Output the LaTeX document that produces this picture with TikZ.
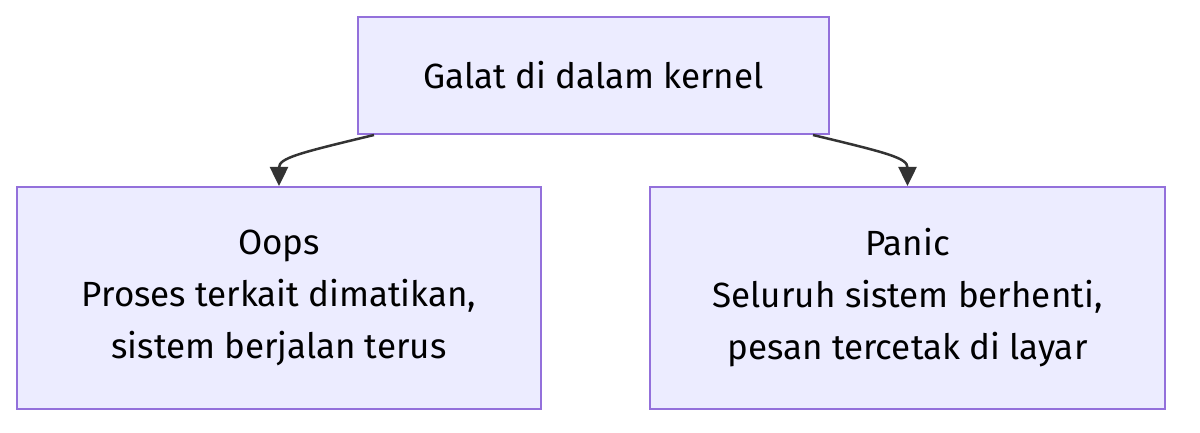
\documentclass[tikz,border=0pt]{standalone}
\usepackage{fontspec}
\setmainfont{Fira Sans}
\usetikzlibrary{arrows.meta}
\definecolor{boxfill}{HTML}{ECECFF}
\definecolor{boxline}{HTML}{9370DB}
\definecolor{arrowline}{HTML}{333333}
\tikzset{>={Triangle[width=18pt,length=19pt]}}

\begin{document}
\begin{tikzpicture}[x=1pt, y=-1pt,
    every node/.style={draw=boxline, fill=boxfill, line width=2pt, align=center, inner sep=0pt,
        font=\fontsize{35pt}{52pt}\selectfont},
    link/.style={->, draw=arrowline, line width=2.5pt}]
    \useasboundingbox (0,0) rectangle (1200,433);
    % Nodes
    \node (Kernel) [minimum width=471pt, minimum height=117pt] at (593.5,75.5) {Galat di dalam kernel};
    \node (Oops) [minimum width=524pt, minimum height=222pt] at (279,298) {Oops\\Proses terkait dimatikan,\\sistem berjalan terus};
    \node (Panic) [minimum width=515pt, minimum height=222pt] at (907.5,298) {Panic\\Seluruh sistem berhenti,\\pesan tercetak di layar};

    % Arrows
    \coordinate (KernelL) at ([xshift=17pt]Kernel.south west);
    \coordinate (KernelR) at ([xshift=-17pt]Kernel.south east);
    \draw[link] (KernelL) .. controls +(-75,18) and +(0,-28) .. (Oops.north);
    \draw[link] (KernelR) .. controls +(75,18) and +(0,-28) .. (Panic.north);
\end{tikzpicture}
\end{document}
